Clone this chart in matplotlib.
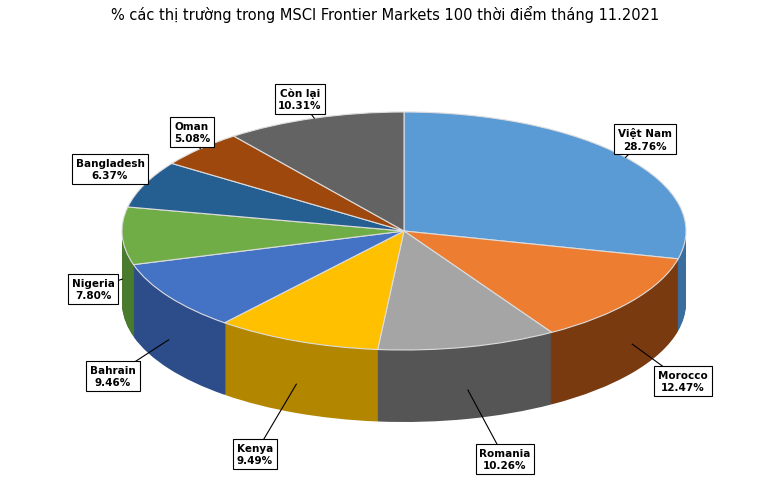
import matplotlib
matplotlib.use("Agg")
import matplotlib.pyplot as plt
import matplotlib.transforms as mtransforms
import numpy as np

markets = ["Việt Nam", "Morocco", "Romania", "Kenya", "Bahrain", "Nigeria", "Bangladesh", "Oman", "Còn lại"]
shares = [28.76, 12.47, 10.26, 9.49, 9.46, 7.80, 6.37, 5.08, 10.31]
top_colors = ["#5B9BD5", "#ED7D31", "#A5A5A5", "#FFC000", "#4472C4", "#70AD47", "#255E91", "#9E480E", "#636363"]
side_colors = ["#3A6E9E", "#7A3A10", "#555555", "#B38600", "#2C4D8A", "#4A7A2E", "#183F63", "#6A2F08", "#3E3E3E"]
label_pos = [(645, 140), (683, 382), (505, 460), (255, 455), (113, 377), (93, 290), (110, 170), (192, 133), (300, 100)]

W, H = 770, 481
fig = plt.figure(figsize=(7.7, 4.81), dpi=100)
ax = fig.add_axes([0, 0, 1, 1])
cx, cy, rx, ry, depth = 404, 249, 282, 119, 72

for k in range(depth, 0, -1):
    tr = mtransforms.Affine2D().scale(rx, ry).translate(cx, cy - k) + ax.transData
    wedges, _ = ax.pie(shares, startangle=90, counterclock=False, colors=side_colors,
                       wedgeprops=dict(linewidth=0))
    for w in wedges:
        w.set_transform(tr)

tr = mtransforms.Affine2D().scale(rx, ry).translate(cx, cy) + ax.transData
wedges, _ = ax.pie(shares, startangle=90, counterclock=False, colors=top_colors,
                   wedgeprops=dict(linewidth=0.8, edgecolor="#dddddd"))
for w in wedges:
    w.set_transform(tr)

ax.set_aspect("auto")
ax.set_xlim(0, W)
ax.set_ylim(0, H)
ax.axis("off")

cum = 0
for name, v, (lx, ly) in zip(markets, shares, label_pos):
    th = np.deg2rad(90 - 360 * (cum + v / 2) / 100)
    cum += v
    px, py = cx + rx * np.cos(th), cy + ry * np.sin(th)
    if np.sin(th) < 0:
        py -= depth * 0.6
    ax.plot([lx, px], [H - ly, py], color="black", lw=0.8, zorder=5)
    ax.text(lx, H - ly, f"{name}\n{v:.2f}%", ha="center", va="center", fontsize=7.5,
            fontweight="bold", linespacing=1.3, zorder=6,
            bbox=dict(boxstyle="square,pad=0.35", fc="white", ec="black", lw=0.8))

ax.text(W / 2, H - 14, "% các thị trường trong MSCI Frontier Markets 100 thời điểm tháng 11.2021",
        ha="center", va="center", fontsize=10.5)

fig.savefig("out.png", dpi=100)
